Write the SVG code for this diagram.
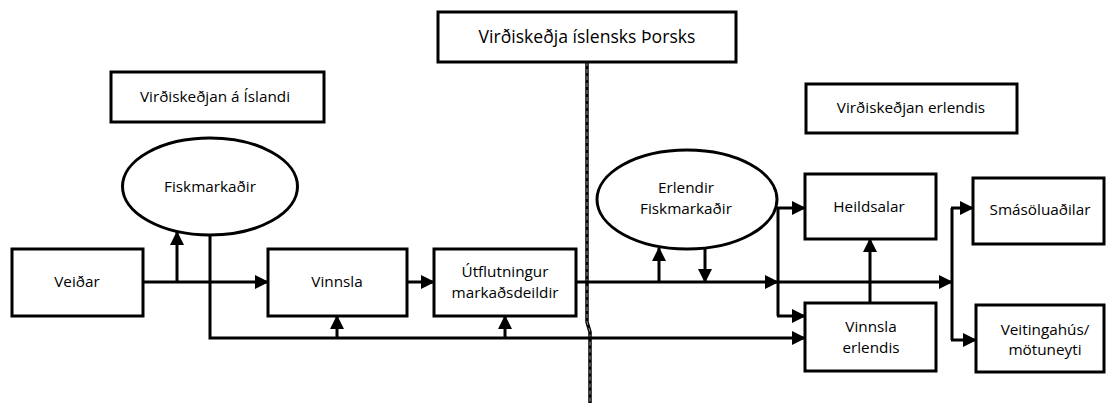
<svg xmlns="http://www.w3.org/2000/svg" width="1106" height="403" viewBox="0 0 1106 403">
<style>
.box{fill:#fff;stroke:#000;stroke-width:3}
.t{font-family:"Open Sans","Liberation Sans",sans-serif;font-size:15.3px;fill:#000;text-anchor:middle}
.t2{font-family:"Open Sans","Liberation Sans",sans-serif;font-size:17.6px;fill:#000;text-anchor:middle}
.c{fill:none;stroke:#000;stroke-width:3}
</style>
<defs>
<marker id="ah" markerUnits="userSpaceOnUse" markerWidth="14" markerHeight="14" refX="13" refY="7" orient="auto">
<path d="M0,0 L14,7 L0,14 z" fill="#000"/>
</marker>
</defs>
<g id="divider">
<path d="M587,62 V322 L590,332 V403" fill="none" stroke="#000" stroke-width="3.5"/>
<path d="M587,62 V322 L590,332 V403" fill="none" stroke="#999" stroke-width="1" stroke-dasharray="4,3"/>
</g>
<g id="title">
<rect class="box" x="438" y="12" width="298" height="50"/>
<text class="t2" x="587" y="43">Virðiskeðja íslensks Þorsks</text>
</g>
<g id="island">
<rect class="box" x="111" y="72" width="213" height="50"/>
<text class="t" x="215" y="102">Virðiskeðjan á Íslandi</text>
</g>
<g id="erlendis">
<rect class="box" x="806" y="84" width="211" height="49"/>
<text class="t" x="911" y="113">Virðiskeðjan erlendis</text>
</g>
<g id="connectors">
<path class="c" d="M143,282 H268" marker-end="url(#ah)"/>
<path class="c" d="M177,282 V232" marker-end="url(#ah)"/>
<path class="c" d="M210,235 V338 H805" marker-end="url(#ah)"/>
<path class="c" d="M337,338 V316" marker-end="url(#ah)"/>
<path class="c" d="M505,338 V316" marker-end="url(#ah)"/>
<path class="c" d="M407,282 H434" marker-end="url(#ah)"/>
<path class="c" d="M576,282 H778" marker-end="url(#ah)"/>
<path class="c" d="M778,282 H952" marker-end="url(#ah)"/>
<path class="c" d="M659,282 V248" marker-end="url(#ah)"/>
<path class="c" d="M705,249 V282" marker-end="url(#ah)"/>
<path class="c" d="M778,208 V316"/>
<path class="c" d="M777,208 H805" marker-end="url(#ah)"/>
<path class="c" d="M777,316 H805" marker-end="url(#ah)"/>
<path class="c" d="M870,303 V239" marker-end="url(#ah)"/>
<path class="c" d="M952,208 V340"/>
<path class="c" d="M951,208 H973" marker-end="url(#ah)"/>
<path class="c" d="M951,340 H976" marker-end="url(#ah)"/>
</g>
<g id="fiskmarkadir">
<ellipse class="box" cx="210" cy="186.5" rx="87.5" ry="48.5"/>
<text class="t" x="210" y="192">Fiskmarkaðir</text>
</g>
<g id="veidar">
<rect class="box" x="12" y="249" width="131" height="67"/>
<text class="t" x="77" y="287">Veiðar</text>
</g>
<g id="vinnsla">
<rect class="box" x="268" y="249" width="139" height="67"/>
<text class="t" x="337" y="287">Vinnsla</text>
</g>
<g id="utflutningur">
<rect class="box" x="434" y="249" width="142" height="67"/>
<text class="t" x="505" y="277">Útflutningur</text>
<text class="t" x="505" y="298">markaðsdeildir</text>
</g>
<g id="erlendir-fiskmarkadir">
<ellipse class="box" cx="687" cy="199.5" rx="90" ry="49.5"/>
<text class="t" x="686" y="193">Erlendir</text>
<text class="t" x="686" y="214">Fiskmarkaðir</text>
</g>
<g id="heildsalar">
<rect class="box" x="805" y="174" width="131" height="65"/>
<text class="t" x="869" y="212">Heildsalar</text>
</g>
<g id="vinnsla-erlendis">
<rect class="box" x="805" y="303" width="131" height="68"/>
<text class="t" x="871" y="332">Vinnsla</text>
<text class="t" x="871" y="353">erlendis</text>
</g>
<g id="smasoluadilar">
<rect class="box" x="973" y="178" width="131" height="66"/>
<text class="t" x="1040" y="215">Smásöluaðilar</text>
</g>
<g id="veitingahus">
<rect class="box" x="976" y="305" width="128" height="67"/>
<text class="t" x="1045" y="335">Veitingahús/</text>
<text class="t" x="1045" y="355">mötuneyti</text>
</g>
</svg>
